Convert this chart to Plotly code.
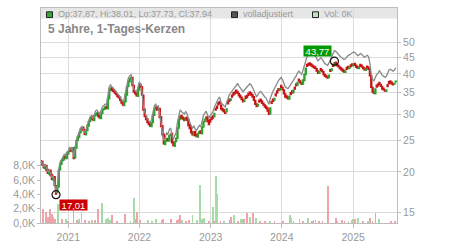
import numpy as np
import pandas as pd
import plotly.graph_objects as go

# ---------------- data ----------------
start_date = "2020-08-14"   # first weekly candle
opens = [
    21.6, 21.5, 21.0, 20.5, 20.9, 20.3, 19.7, 20.2, 19.6, 18.9,
    19.3, 18.1, 17.3, 18.0, 20.3, 21.1, 21.7, 21.8, 22.5, 22.0,
    22.7, 23.1, 23.6, 23.1, 23.7, 22.1, 23.7, 25.0, 25.5, 26.4,
    27.1, 27.4, 26.9, 26.0, 26.8, 27.7, 28.6, 29.1, 29.6, 28.8,
    29.8, 30.0, 30.4, 29.7, 29.2, 30.3, 31.1, 31.2, 31.7, 31.3,
    33.6, 35.7, 36.3, 35.7, 35.5, 35.1, 34.5, 34.2, 33.9, 33.1,
    32.7, 32.0, 32.9, 34.5, 36.6, 37.9, 38.7, 39.0, 36.8, 35.3,
    34.9, 34.2, 35.7, 37.1, 36.5, 34.4, 31.1, 29.7, 29.1, 28.5,
    28.1, 27.6, 28.4, 29.9, 31.3, 31.7, 31.1, 31.3, 29.5, 27.7,
    26.1, 24.3, 24.9, 25.3, 24.9, 25.9, 26.2, 24.7, 24.0, 24.8,
    25.4, 27.3, 29.0, 29.8, 29.4, 29.2, 28.9, 29.4, 29.0, 27.9,
    27.3, 26.5, 25.9, 26.6, 26.0, 25.6, 26.3, 26.7, 26.2, 27.5,
    28.6, 29.1, 29.5, 28.7, 28.9, 29.4, 29.7, 29.6, 31.3, 31.8,
    32.6, 32.9, 32.1, 31.3, 31.0, 30.5, 30.6, 32.8, 33.4, 33.2,
    34.4, 34.9, 35.2, 35.6, 35.3, 34.8, 34.4, 33.9, 33.4, 33.0,
    34.1, 34.3, 34.8, 35.2, 34.9, 34.5, 34.0, 33.1, 32.3, 31.9,
    33.2, 33.4, 33.0, 32.5, 32.1, 31.8, 31.4, 30.9, 30.2, 32.9,
    33.4, 33.2, 34.7, 35.4, 36.0, 35.7, 36.8, 36.3, 35.7, 34.7,
    34.2, 33.9, 33.5, 35.0, 35.4, 35.1, 36.4, 37.2, 37.0, 38.5,
    38.0, 37.5, 37.3, 38.2, 39.9, 42.7, 43.0, 43.2, 42.9, 42.5,
    42.2, 42.0, 41.5, 40.8, 40.3, 41.5, 41.1, 40.6, 39.8, 39.5,
    39.1, 39.0, 41.2, 41.0, 42.7, 42.4, 43.4, 42.9, 42.5, 42.0,
    41.7, 41.3, 41.0, 40.5, 41.8, 42.1, 41.6, 42.6, 42.9, 42.4,
    43.0, 42.5, 42.1, 41.6, 42.7, 42.5, 42.0, 41.7, 41.1, 42.2,
    41.9, 41.3, 39.4, 36.3, 35.1, 34.8, 36.9, 37.2, 37.6, 37.1,
    36.6, 36.1, 35.7, 35.4, 37.0, 37.8, 38.0, 37.7, 37.2, 37.3,
    37.87,
]
closes = [
    21.4, 21.0, 20.6, 20.9, 20.2, 19.8, 20.1, 19.5, 19.0, 19.3,
    18.2, 17.1, 18.0, 20.2, 21.2, 21.6, 21.9, 22.4, 22.1, 22.8,
    23.0, 23.5, 23.2, 23.6, 22.0, 23.8, 24.9, 25.6, 26.3, 27.0,
    27.3, 26.8, 26.1, 26.7, 27.8, 28.5, 29.2, 29.5, 28.9, 29.7,
    30.1, 30.3, 29.6, 29.3, 30.2, 31.0, 31.3, 31.6, 31.4, 33.5,
    35.8, 36.2, 35.6, 35.4, 35.0, 34.6, 34.1, 33.8, 33.2, 32.6,
    32.1, 32.8, 34.6, 36.5, 38.0, 38.6, 38.9, 36.9, 35.2, 34.8,
    34.3, 35.6, 37.0, 36.4, 34.5, 31.0, 29.6, 29.0, 28.4, 28.0,
    27.7, 28.3, 29.8, 31.2, 31.6, 31.0, 31.2, 29.4, 27.6, 26.0,
    24.4, 24.8, 25.2, 25.0, 25.8, 26.1, 24.6, 24.1, 24.7, 25.3,
    27.2, 28.9, 29.7, 29.3, 29.1, 28.8, 29.3, 28.9, 27.8, 27.2,
    26.4, 26.0, 26.5, 25.9, 25.7, 26.2, 26.6, 26.3, 27.4, 28.5,
    29.0, 29.4, 28.6, 28.0, 28.5, 29.0, 29.3, 30.2, 31.0, 31.4,
    32.2, 32.5, 31.2, 30.9, 30.6, 30.3, 31.2, 32.4, 33.0, 33.5,
    34.0, 34.5, 34.8, 35.2, 34.9, 34.3, 33.9, 33.4, 32.9, 33.3,
    33.7, 33.9, 34.4, 34.8, 34.5, 34.0, 33.2, 32.3, 31.8, 32.2,
    32.8, 33.0, 32.5, 32.1, 31.7, 31.4, 30.8, 30.1, 31.4, 32.5,
    33.0, 33.6, 34.3, 35.0, 35.6, 36.0, 36.4, 35.8, 34.8, 34.0,
    33.8, 33.6, 34.1, 34.6, 35.0, 35.6, 36.0, 36.8, 37.6, 38.1,
    37.6, 37.2, 38.3, 39.8, 41.6, 42.3, 42.6, 42.8, 42.4, 42.1,
    41.8, 41.6, 40.9, 40.2, 40.6, 41.1, 40.7, 39.9, 39.4, 39.2,
    38.9, 39.6, 40.8, 41.4, 42.3, 43.2, 43.0, 42.4, 42.1, 41.6,
    41.2, 40.9, 40.6, 40.8, 41.4, 41.7, 41.9, 42.2, 42.5, 42.8,
    42.6, 42.0, 41.7, 41.9, 42.3, 42.1, 41.6, 41.2, 41.5, 41.8,
    41.4, 39.5, 36.4, 35.2, 34.9, 35.9, 36.5, 36.8, 37.2, 36.7,
    36.0, 35.8, 35.5, 35.7, 36.6, 37.4, 37.6, 37.3, 37.1, 37.4,
    37.94,
]

# cumulative adjustment factors for the "volladjustiert" line (dividend dates)
adj_dates = ["2021-05-15", "2022-05-15", "2023-05-15", "2024-05-15", "2025-05-15"]
adj_factors = [1.01, 1.022, 1.045, 1.072, 1.092, 1.10]

vol_dates = [
    "2020-08-23", "2020-09-07", "2020-09-17", "2020-09-29", "2020-10-08", "2020-10-16",
    "2020-10-25", "2020-11-11", "2020-11-28", "2020-12-20", "2020-12-30",
    "2021-01-28", "2021-02-14", "2021-02-25", "2021-03-10", "2021-03-27", "2021-04-16",
    "2021-05-02", "2021-05-17", "2021-06-03", "2021-06-25", "2021-07-12", "2021-07-23",
    "2021-08-02", "2021-08-14", "2021-09-08", "2021-10-18", "2021-11-16", "2021-12-03",
    "2021-12-15", "2021-12-20",
    "2022-01-03", "2022-02-14", "2022-03-05", "2022-03-25", "2022-04-25", "2022-05-02",
    "2022-06-14", "2022-07-11", "2022-07-21", "2022-07-30", "2022-08-07", "2022-08-26",
    "2022-09-11", "2022-09-30", "2022-10-23", "2022-11-08", "2022-11-20", "2022-11-27",
    "2022-12-24",
    "2023-01-13", "2023-01-18", "2023-01-28", "2023-02-02", "2023-02-21", "2023-03-09",
    "2023-04-08", "2023-04-17", "2023-04-29", "2023-05-21", "2023-06-08", "2023-06-16",
    "2023-06-23", "2023-07-06", "2023-07-20", "2023-08-06", "2023-08-23", "2023-09-13",
    "2023-10-05", "2023-10-31", "2023-11-25",
    "2024-01-06", "2024-02-10", "2024-02-19", "2024-03-01", "2024-04-01", "2024-04-18",
    "2024-05-14", "2024-06-02", "2024-06-12", "2024-06-22", "2024-07-08", "2024-07-28",
    "2024-08-24", "2024-10-03", "2024-10-13", "2024-11-03", "2024-11-18", "2024-12-08",
    "2024-12-25",
    "2025-01-02", "2025-01-09", "2025-01-26", "2025-02-19", "2025-03-18", "2025-03-27",
    "2025-04-10", "2025-04-26", "2025-05-13", "2025-07-16", "2025-08-02",
]
vol_values = [
    2000, 1600, 900, 2000, 1300, 900, 600, 2700, 600, 500, 300,
    3300, 400, 500, 1500, 400, 300, 400, 400, 2000, 2800, 500, 700, 400, 1100, 300, 1200,
    300, 3500, 600, 1500,
    400, 400, 300, 500, 400, 500, 500, 400, 500, 1100, 400, 300, 400, 1100, 400, 5300,
    500, 700, 300,
    2300, 300, 6600, 4000, 300, 300, 400, 900, 1100, 300, 500, 500, 600, 1400, 800, 1400,
    700, 300, 200, 200, 200,
    300, 1100, 700, 300, 500, 300, 700, 300, 400, 400, 300, 200, 5100, 700, 300, 400,
    300, 300, 400,
    600, 500, 700, 300, 300, 700, 300, 1400, 600, 300, 300,
]
vol_dir = [
    "d", "d", "d", "d", "d", "d", "d", "u", "d", "u", "d",
    "d", "d", "u", "u", "d", "d", "u", "d", "d", "u", "u", "u", "u", "d", "d", "d", "u", "u", "d", "d",
    "d", "u", "u", "u", "d", "d", "d", "d", "d", "d", "u", "d", "d", "u", "u", "u", "u", "u", "d",
    "u", "d", "u", "u", "d", "u", "d", "d", "u", "d", "u", "u", "d", "d", "u", "d", "u", "d", "d", "u", "d",
    "d", "u", "u", "d", "u", "d", "u", "d", "d", "d", "d", "d", "d", "d", "u", "d", "d", "u", "u",
    "u", "d", "u", "d", "u", "d", "d", "d", "u", "d", "d",
]

low_date, low_value = "2020-10-30", 17.01
high_date, high_value = "2024-09-27", 43.77

price_ticks = [15, 20, 25, 30, 35, 40, 45, 50]
vol_ticks = [0, 2000, 4000, 6000, 8000]
vol_tick_labels = ["0,0K", "2,0K", "4,0K", "6,0K", "8,0K"]
year_ticks = ["2021-01-01", "2022-01-01", "2023-01-01", "2024-01-01", "2025-01-01"]
year_labels = ["2021", "2022", "2023", "2024", "2025"]

title_text = "5 Jahre, 1-Tages-Kerzen"
legend_ohlc = "Op:37.87, Hi:38.01, Lo:37.73, Cl:37.94"
legend_adj = "volladjustiert"
legend_vol = "Vol: 0K"

# ---------------- derived ----------------
dates = pd.date_range(start_date, periods=len(closes), freq="7D")
o = np.array(opens)
c = np.array(closes)
hi = np.maximum(o, c)
lo = np.minimum(o, c)
idx = np.searchsorted(pd.to_datetime(adj_dates).values, dates.values, side="right")
adjusted = c * np.array(adj_factors)[idx]

# ---------------- style ----------------
FONT = "Liberation Sans, Arial, sans-serif"
W, H = 450, 250
L, R, T, B = 41, 53, 7, 18
PW, PH = W - L - R, H - T - B
GREEN = "#2ea02e"
RED = "#c81414"
VOL_G = "#a6dba6"
VOL_R = "#f0a3ab"
GRID = "#dcdcdc"
AXC = "#bdbdbd"
TXT = "#999999"


def px_x(px):
    return (px - L) / PW


def px_y(py):
    return (H - B - py) / PH


fig = go.Figure()

fig.add_trace(go.Bar(
    x=vol_dates, y=vol_values, yaxis="y2",
    marker=dict(color=[VOL_G if d == "u" else VOL_R for d in vol_dir], line_width=0),
    width=4.5 * 86400000, hoverinfo="skip",
))

fig.add_trace(go.Scatter(
    x=dates, y=adjusted, mode="lines",
    line=dict(color="#8a8a8a", width=1.3), hoverinfo="skip",
))

fig.add_trace(go.Candlestick(
    x=dates, open=o, high=hi, low=lo, close=c,
    increasing=dict(line=dict(color=GREEN, width=1.7), fillcolor=GREEN),
    decreasing=dict(line=dict(color=RED, width=1.7), fillcolor=RED),
    whiskerwidth=0, hoverinfo="skip",
))

fig.add_trace(go.Scatter(
    x=[low_date, high_date], y=[low_value, high_value], mode="markers",
    marker=dict(symbol="circle-open", size=8, color="#111", line=dict(width=1.2)),
    hoverinfo="skip",
))

shapes = [
    # legend band
    dict(type="rect", xref="paper", yref="paper", x0=0, x1=1, y0=px_y(18), y1=1,
         fillcolor="#e6e6e6", line_width=0, layer="below"),
    # legend squares
    dict(type="rect", xref="paper", yref="paper", x0=px_x(46.5), x1=px_x(52.5),
         y0=px_y(17), y1=px_y(11), fillcolor="#33aa33", line=dict(color="#222", width=1), layer="above"),
    dict(type="rect", xref="paper", yref="paper", x0=px_x(231.5), x1=px_x(237.5),
         y0=px_y(17), y1=px_y(11), fillcolor="#555555", line=dict(color="#222", width=1), layer="above"),
    dict(type="rect", xref="paper", yref="paper", x0=px_x(312.5), x1=px_x(318.5),
         y0=px_y(17), y1=px_y(11), fillcolor="#b8e6b8", line=dict(color="#222", width=1), layer="above"),
]

annotations = [
    dict(xref="paper", yref="paper", x=px_x(56), y=px_y(13.5), text=legend_ohlc,
         xanchor="left", yanchor="middle", showarrow=False, font=dict(size=9, color=TXT, family=FONT)),
    dict(xref="paper", yref="paper", x=px_x(241), y=px_y(13.5), text=legend_adj,
         xanchor="left", yanchor="middle", showarrow=False, font=dict(size=9, color=TXT, family=FONT)),
    dict(xref="paper", yref="paper", x=px_x(322), y=px_y(13.5), text=legend_vol,
         xanchor="left", yanchor="middle", showarrow=False, font=dict(size=9, color=TXT, family=FONT)),
    dict(xref="paper", yref="paper", x=px_x(46), y=px_y(29.5), text="<b>" + title_text + "</b>",
         xanchor="left", yanchor="middle", showarrow=False, font=dict(size=12, color="#888888", family=FONT)),
    dict(xref="x", yref="y", x=low_date, y=np.log10(low_value), text=f"{low_value:.2f}".replace(".", ","),
         xanchor="left", yanchor="top", xshift=2.5, yshift=-4.5, width=27, height=10,
         bgcolor="#cc0000", borderpad=0, showarrow=False,
         font=dict(size=9.5, color="white", family=FONT)),
    dict(xref="x", yref="y", x=high_date, y=np.log10(high_value), text=f"{high_value:.2f}".replace(".", ","),
         xanchor="right", yanchor="bottom", xshift=-2.5, yshift=4, width=27, height=10,
         bgcolor="#009900", borderpad=0, showarrow=False,
         font=dict(size=9.5, color="white", family=FONT)),
]

fig.update_layout(
    width=W, height=H,
    margin=dict(l=L, r=R, t=T, b=B, pad=0),
    paper_bgcolor="white", plot_bgcolor="white",
    showlegend=False, bargap=0,
    font=dict(family=FONT, color=TXT, size=10.5),
    shapes=shapes, annotations=annotations,
    xaxis=dict(
        type="date", range=["2020-08-14", "2025-08-14"],
        tickvals=year_ticks, ticktext=year_labels,
        showgrid=True, gridcolor=GRID, gridwidth=1,
        ticks="outside", ticklen=4, tickcolor=AXC,
        showline=True, linecolor=AXC, mirror=True,
        tickfont=dict(size=10.5, color=TXT),
        rangeslider=dict(visible=False), fixedrange=True,
    ),
    yaxis=dict(
        type="log", side="right",
        range=[np.log10(13.92), np.log10(63.8)],
        tickvals=price_ticks, ticktext=[str(v) for v in price_ticks],
        showgrid=True, gridcolor=GRID, gridwidth=1,
        ticks="outside", ticklen=3, tickcolor=AXC,
        showline=True, linecolor=AXC, mirror=True,
        tickfont=dict(size=10.5, color=TXT), fixedrange=True,
    ),
    yaxis2=dict(
        overlaying="y", side="left", range=[0, 30000],
        tickvals=vol_ticks, ticktext=vol_tick_labels,
        showgrid=False, zeroline=False,
        ticks="outside", ticklen=3, tickcolor=AXC,
        showline=False,
        tickfont=dict(size=10.5, color=TXT), fixedrange=True,
    ),
)

fig.write_html("out.html")
